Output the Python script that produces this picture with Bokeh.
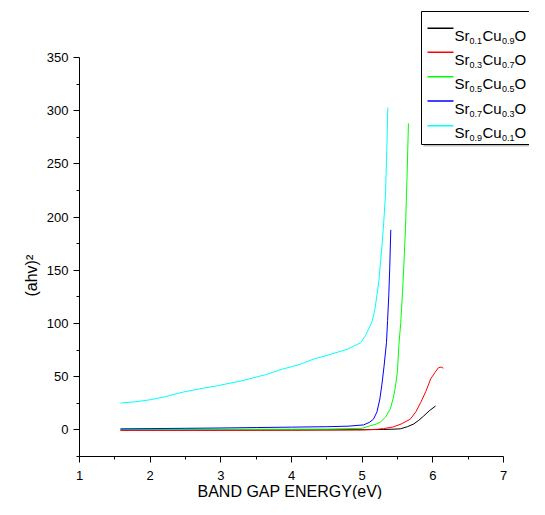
from bokeh.plotting import figure
from bokeh.models import Range1d, FixedTicker, Label, BoxAnnotation, Arrow, Title
from bokeh.embed import file_html
from bokeh.resources import INLINE

# ---- data ----
x_black = [1.58, 3.0, 4.0, 5.0, 5.3, 5.45, 5.54, 5.64, 5.73, 5.80, 5.87, 5.95, 6.04]
y_black = [0.0, 0.0, 0.0, 0.2, 0.4, 0.7, 1.0, 3.0, 5.6, 9.0, 13.0, 18.0, 22.5]

x_red = [1.58, 3.0, 4.0, 5.0, 5.2, 5.3, 5.44, 5.55, 5.68, 5.76, 5.83, 5.90, 5.97, 6.03, 6.08, 6.12, 6.15]
y_red = [-0.5, -0.5, -0.3, 0.0, 0.5, 1.2, 2.8, 5.5, 10.0, 17.0, 26.0, 36.0, 48.0, 54.0, 58.5, 59.0, 58.0]

x_green = [1.58, 2.5, 3.5, 4.5, 5.0, 5.12, 5.20, 5.26, 5.33, 5.40, 5.44, 5.47, 5.50, 5.52,
           5.545, 5.57, 5.59, 5.613, 5.635, 5.655]
y_green = [0.5, 0.5, 0.6, 0.8, 1.5, 4.0, 5.5, 7.5, 12.0, 20.0, 30.0, 40.0, 56.0, 80.0,
           100.0, 128.0, 155.0, 190.0, 238.0, 288.0]

x_blue = [1.58, 2.0, 2.5, 3.0, 3.5, 4.0, 4.5, 4.8, 5.02, 5.10, 5.16, 5.21, 5.25, 5.28,
          5.31, 5.344, 5.36, 5.377, 5.39, 5.405]
y_blue = [1.0, 1.2, 1.5, 1.8, 2.2, 2.6, 3.0, 3.5, 4.7, 7.0, 10.0, 17.0, 29.0, 43.0,
          60.0, 82.0, 103.0, 127.0, 152.0, 188.0]

x_cyan = [1.58, 1.8, 2.0, 2.2, 2.47, 2.7, 2.95, 3.28, 3.66, 3.84, 4.13, 4.31, 4.5, 4.79, 4.98,
          5.05, 5.10, 5.14, 5.18, 5.21, 5.24, 5.26, 5.28, 5.30, 5.33, 5.344, 5.355, 5.363]
y_cyan = [25.3, 26.5, 28.3, 31.0, 35.6, 38.5, 41.5, 45.9, 52.4, 56.5, 61.8, 66.5, 70.0, 75.8, 82.0,
          89.0, 96.0, 102.0, 113.0, 127.0, 142.0, 158.0, 173.0, 190.0, 221.0, 252.0, 280.0, 303.0]

series_x = [x_black, x_red, x_green, x_blue, x_cyan]
series_y = [y_black, y_red, y_green, y_blue, y_cyan]
colors = ["#000000", "#FF0000", "#00FF00", "#0000FF", "#00FFFF"]
sub_sr = ["0.1", "0.3", "0.5", "0.7", "0.9"]
sub_cu = ["0.9", "0.7", "0.5", "0.3", "0.1"]

x_ticks = [1, 2, 3, 4, 5, 6, 7]
x_minor = [1.5, 2.5, 3.5, 4.5, 5.5, 6.5]
y_ticks = [0, 50, 100, 150, 200, 250, 300, 350]
y_minor = [-25, 25, 75, 125, 175, 225, 275, 325]
x_lo, x_hi = 1, 7
y_lo, y_hi = -25, 350

FONT = "Liberation Sans"

# ---- layout (pixels) ----
W, H = 529, 499
F_LEFT, F_BOTTOM = 79, 456          # frame left / bottom; frame reaches the top and right edges
AX_RIGHT_PX, AX_TOP_PX = 503, 57    # where x=7 and y=350 sit
px_per_x = (AX_RIGHT_PX - F_LEFT) / (x_hi - x_lo)
px_per_y = (F_BOTTOM - AX_TOP_PX) / (y_hi - y_lo)
x_end = x_hi + (W - AX_RIGHT_PX) / px_per_x
y_end = y_hi + AX_TOP_PX / px_per_y

p = figure(width=W, height=H, output_backend="svg", toolbar_location=None,
           x_range=Range1d(x_lo, x_end), y_range=Range1d(y_lo, y_end),
           min_border_left=F_LEFT, min_border_right=0, min_border_top=0,
           min_border_bottom=H - F_BOTTOM,
           background_fill_color="white", border_fill_color="white")
p.grid.visible = False
p.outline_line_color = None

p.xaxis.ticker = FixedTicker(ticks=x_ticks, minor_ticks=x_minor)
p.yaxis.ticker = FixedTicker(ticks=y_ticks, minor_ticks=y_minor)
p.xaxis.bounds = (x_lo, x_hi)
p.yaxis.bounds = (y_lo, y_hi)
for ax in (p.xaxis, p.yaxis):
    ax.axis_line_color = "black"
    ax.axis_line_width = 1
    ax.major_tick_line_color = "black"
    ax.minor_tick_line_color = "black"
    ax.major_tick_in = 0
    ax.major_tick_out = 6
    ax.minor_tick_in = 0
    ax.minor_tick_out = 3
    ax.major_label_text_font = FONT
    ax.major_label_text_font_size = "13px"
    ax.major_label_text_color = "black"
p.xaxis.major_label_standoff = 8
p.yaxis.major_label_standoff = 5

p.add_layout(Title(text="BAND GAP ENERGY(eV)", align="left", offset=118, standoff=-4,
                   text_font=FONT, text_font_size="16px", text_font_style="normal",
                   text_color="black"), "below")
p.add_layout(Title(text="(ahv)\u00b2", align="left", offset=160, standoff=8,
                   text_font=FONT, text_font_size="16px", text_font_style="normal",
                   text_color="black"), "left")

for xs, ys, c in zip(series_x, series_y, colors):
    p.line(xs, ys, line_color=c, line_width=1)

# ---- hand-built legend with subscripts (screen units, relative to frame) ----
def sx(px):
    return px - F_LEFT

def sy(py):
    return F_BOTTOM - py

box_kw = dict(left_units="screen", right_units="screen", top_units="screen", bottom_units="screen")
p.add_layout(BoxAnnotation(left=sx(423), right=sx(600), top=sy(13), bottom=sy(146),
                           fill_color="#999999", fill_alpha=0.6, line_color=None, **box_kw))
p.add_layout(BoxAnnotation(left=sx(421), right=sx(600), top=sy(11), bottom=sy(144),
                           fill_color="white", fill_alpha=1.0,
                           line_color="black", line_width=1, line_alpha=1.0, **box_kw))

row_y = [27.7, 51.7, 76.2, 100.5, 125.2]
for i in range(5):
    ly = row_y[i]
    p.add_layout(Arrow(end=None, x_start=sx(427), y_start=sy(ly), x_end=sx(453), y_end=sy(ly),
                       start_units="screen", end_units="screen",
                       line_color=colors[i], line_width=1.5))
    pieces = [("Sr", 454, False), (sub_sr[i], 469, True), ("Cu", 482, False),
              (sub_cu[i], 501.5, True), ("O", 514, False)]
    for txt, px, is_sub in pieces:
        p.add_layout(Label(x=sx(px), y=sy(ly + (12.5 if is_sub else 7.0)),
                           x_units="screen", y_units="screen", text=txt,
                           text_font=FONT, text_font_size="9px" if is_sub else "15px",
                           text_color="black", text_align="left", text_baseline="alphabetic"))

open("out.html", "w").write(file_html(p, INLINE))
